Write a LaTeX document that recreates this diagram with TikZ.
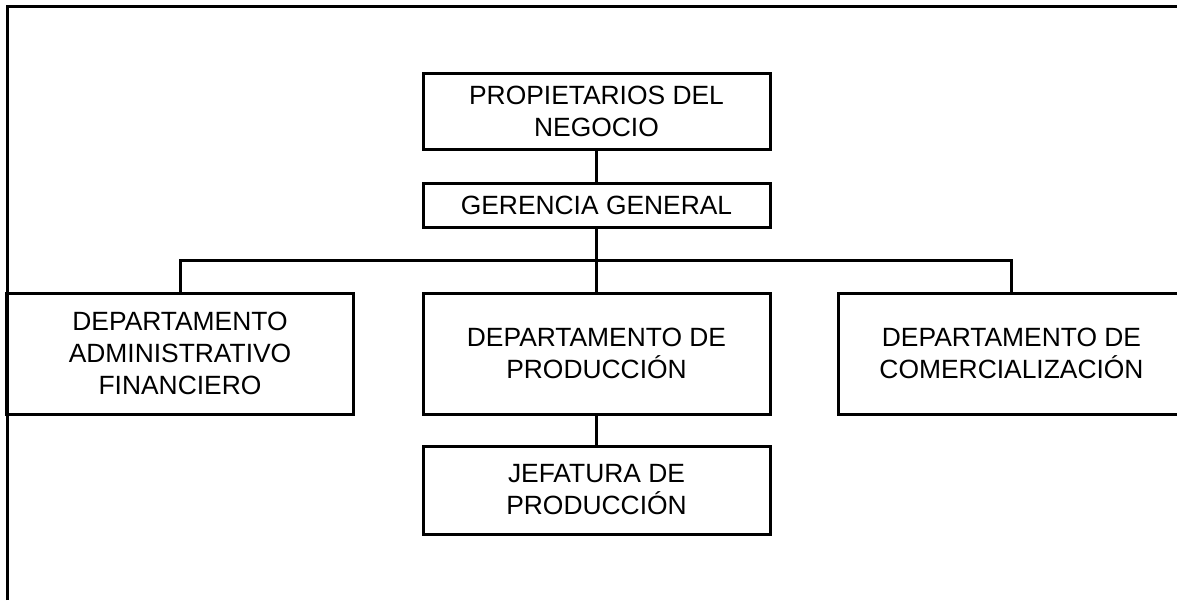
\documentclass[tikz,border=0pt]{standalone}
\usepackage{fontspec}
\setmainfont{Liberation Sans}
\usepackage{tikz}

\begin{document}
\begin{tikzpicture}[x=0.5pt,y=-0.5pt,line width=1.5pt,
		cargo/.style={draw,rectangle,inner sep=0pt,align=center,
			minimum width=173.5pt,font=\fontsize{13.2}{16}\selectfont}]
	\useasboundingbox (0,0) rectangle (1177,600);
	\clip (0,0) rectangle (1177,600);
	% marco
	\draw (7,600) -- (7,6) -- (1177,6);

	\node[cargo,minimum height=38pt] (prop) at (596.5,111) {PROPIETARIOS DEL\\NEGOCIO};
	\node[cargo,minimum height=22pt] (ger) at (596.5,205) {GERENCIA GENERAL};
	\node[cargo,minimum height=60.5pt] (adm) at (180,353.5) {DEPARTAMENTO\\ADMINISTRATIVO\\FINANCIERO};
	\node[cargo,minimum height=60.5pt] (prod) at (596.5,353.5) {DEPARTAMENTO DE\\PRODUCCIÓN};
	\node[cargo,minimum height=60.5pt] (com) at (1011.5,353.5) {DEPARTAMENTO DE\\COMERCIALIZACIÓN};
	\node[cargo,minimum height=44pt] (jef) at (596.5,490) {JEFATURA DE\\PRODUCCIÓN};

	\coordinate (barra) at (596.5,260);
	\draw (prop) -- (ger);
	\draw (ger) -- (barra);
	\draw (adm.north) |- (barra) -| (com.north);
	\draw (barra) -- (prod);
	\draw (prod) -- (jef);
\end{tikzpicture}
\end{document}
